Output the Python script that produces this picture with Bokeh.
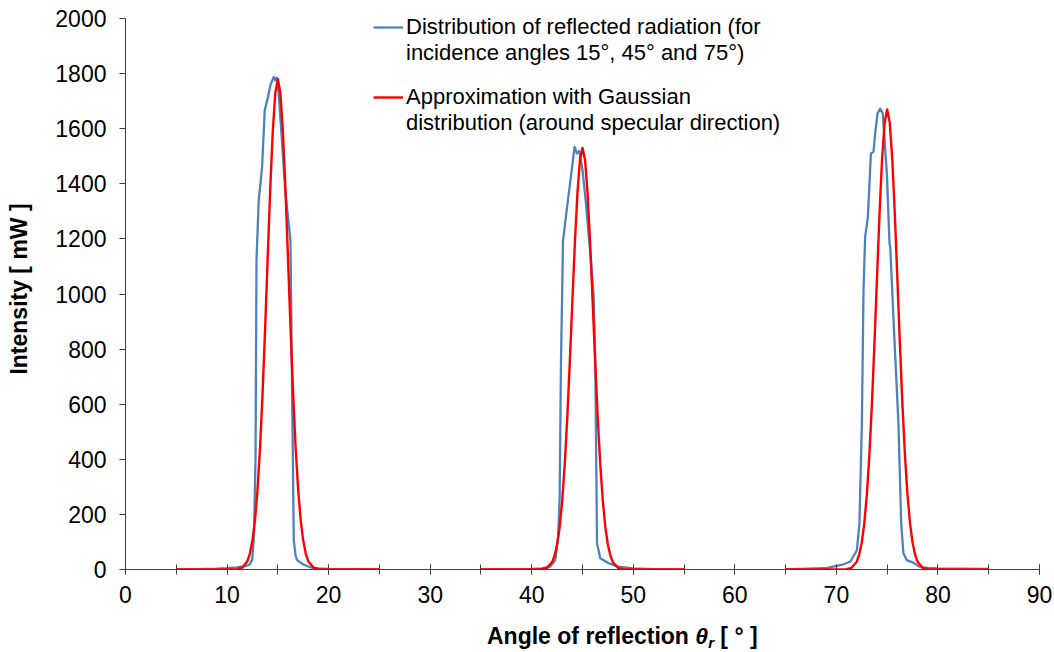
from bokeh.plotting import figure
from bokeh.models import Range1d, SingleIntervalTicker, Legend, LegendItem, Div
from bokeh.layouts import column
from bokeh.embed import file_html
from bokeh.resources import INLINE

NAN = float("nan")

# Measured (blue) reflected radiation distributions, three incidence angles
blue_x_15 = [5.0, 7.0, 9.0, 10.0, 11.0, 11.8, 12.2, 12.47, 12.65, 12.8, 12.9, 13.12, 13.45, 13.71, 14.0, 14.27,
             14.6, 14.76, 14.9, 15.1, 15.4, 15.75, 16.0, 16.24, 16.41, 16.57, 16.75, 16.9, 17.5, 18.2, 19.0,
             20.0, 22.0, 25.0]
blue_y_15 = [0, 1, 3, 5, 8, 12, 18, 34, 120, 397, 1123, 1341, 1461, 1667, 1710, 1758,
             1788, 1775, 1785, 1720, 1560, 1366, 1280, 1195, 640, 106, 50, 34, 18, 8, 4,
             2, 1, 0]
blue_x_45 = [35.0, 38.0, 40.0, 41.0, 41.8, 42.32, 42.6, 42.75, 42.88, 43.08, 43.47, 43.8, 44.22, 44.46, 44.69,
             45.0, 45.28, 45.77, 46.1, 46.26, 46.43, 46.75, 47.57, 48.5, 50.0, 52.0, 55.0]
blue_y_45 = [0, 1, 2, 4, 10, 34, 120, 262, 746, 1192, 1313, 1409, 1534, 1510, 1519,
             1450, 1352, 1148, 990, 749, 95, 41, 23, 10, 4, 1, 0]
blue_x_75 = [65.0, 66.4, 68.0, 69.1, 70.37, 70.7, 71.36, 72.02, 72.27, 72.51, 72.67, 72.83, 73.1, 73.4, 73.65,
             73.82, 74.05, 74.31, 74.57, 74.97, 75.23, 75.3, 75.72, 76.11, 76.38, 76.6, 76.94, 77.6, 78.25,
             79.0, 80.0, 82.0, 85.0]
blue_y_75 = [0, 2, 4, 6, 16, 19, 28, 70, 168, 532, 1014, 1207, 1280, 1510, 1516,
             1583, 1655, 1673, 1655, 1437, 1183, 1171, 832, 531, 168, 59, 34, 24, 9,
             6, 4, 3, 2]

# Gaussian approximations (red)
red_x_15 = [5.0, 11.0, 11.5, 12.0, 12.25, 12.5, 12.75, 13.0, 13.25, 13.5, 13.75, 14.0, 14.25, 14.5, 14.75, 15.0,
            15.25, 15.5, 15.75, 16.0, 16.25, 16.5, 16.75, 17.0, 17.25, 17.5, 17.75, 18.0, 18.5, 19.0, 25.0]
red_y_15 = [0, 1, 7, 30, 58, 105, 179, 290, 443, 641, 876, 1130, 1380, 1590, 1730, 1780,
            1730, 1590, 1380, 1130, 876, 641, 443, 290, 179, 105, 58, 30, 7, 1, 0]
red_x_45 = [35.0, 41.0, 41.5, 42.0, 42.25, 42.5, 42.75, 43.0, 43.25, 43.5, 43.75, 44.0, 44.25, 44.5, 44.75, 45.0,
            45.25, 45.5, 45.75, 46.0, 46.25, 46.5, 46.75, 47.0, 47.25, 47.5, 47.75, 48.0, 48.5, 49.0, 55.0]
red_y_45 = [0, 1, 6, 26, 50, 90, 154, 249, 381, 551, 753, 972, 1186, 1366, 1487, 1530,
            1487, 1366, 1186, 972, 753, 551, 381, 249, 154, 90, 50, 26, 6, 1, 0]
red_x_75 = [65.0, 71.0, 71.5, 72.0, 72.25, 72.5, 72.75, 73.0, 73.25, 73.5, 73.75, 74.0, 74.25, 74.5, 74.75, 75.0,
            75.25, 75.5, 75.75, 76.0, 76.25, 76.5, 76.75, 77.0, 77.25, 77.5, 77.75, 78.0, 78.5, 79.0, 85.0]
red_y_75 = [0, 1, 6, 28, 54, 98, 168, 272, 416, 601, 822, 1060, 1294, 1491, 1623, 1670,
            1623, 1491, 1294, 1060, 822, 601, 416, 272, 168, 98, 54, 28, 6, 1, 0]

x_ticks = [0, 10, 20, 30, 40, 50, 60, 70, 80, 90]
y_ticks = [0, 200, 400, 600, 800, 1000, 1200, 1400, 1600, 1800, 2000]

label_blue = ["Distribution of reflected radiation (for", "incidence angles 15°, 45° and 75°)"]
label_red = ["Approximation with Gaussian", "distribution (around specular direction)"]

FONT = "Liberation Sans"
FS = "22px"
FS_AX = "23px"
BLUE = "#4F81BD"
RED = "#FF0000"
AXIS = "#404040"

# frame: bottom at 569 px, value 2000 at 18 px; 10 px of headroom above the axis top
PX_PER_UNIT = (569 - 18) / (y_ticks[-1] - y_ticks[0])
HEADROOM = 10 / PX_PER_UNIT

p = figure(width=1054, height=612, output_backend="svg", toolbar_location=None,
           x_range=Range1d(x_ticks[0], x_ticks[-1]),
           y_range=Range1d(y_ticks[0], y_ticks[-1] + HEADROOM))
p.min_border_left = 125
p.min_border_right = 15
p.min_border_top = 8
p.min_border_bottom = 43
p.outline_line_color = None
p.xgrid.visible = False
p.ygrid.visible = False
p.background_fill_color = "white"
p.border_fill_color = "white"
p.margin = (0, 0, 0, 0)

bx = blue_x_15 + [NAN] + blue_x_45 + [NAN] + blue_x_75
by = blue_y_15 + [NAN] + blue_y_45 + [NAN] + blue_y_75
rx = red_x_15 + [NAN] + red_x_45 + [NAN] + red_x_75
ry = red_y_15 + [NAN] + red_y_45 + [NAN] + red_y_75

rb = p.line(bx, by, line_color=BLUE, line_width=2.3, line_join="round")
rr = p.line(rx, ry, line_color=RED, line_width=2.4, line_join="round")

# x axis
xa = p.xaxis[0]
xa.ticker = SingleIntervalTicker(interval=10, num_minor_ticks=2)
xa.major_tick_in = 5
xa.major_tick_out = 5
xa.minor_tick_in = 5
xa.minor_tick_out = 5
xa.axis_line_color = AXIS
xa.major_tick_line_color = AXIS
xa.minor_tick_line_color = AXIS
xa.major_label_text_font = FONT
xa.major_label_text_font_size = FS_AX
xa.major_label_text_color = "black"
xa.major_label_standoff = 11

# y axis
ya = p.yaxis[0]
ya.ticker = SingleIntervalTicker(interval=200, num_minor_ticks=0)
ya.bounds = (y_ticks[0], y_ticks[-1])
ya.major_tick_in = 0
ya.major_tick_out = 6
ya.minor_tick_in = 0
ya.minor_tick_out = 0
ya.axis_line_color = AXIS
ya.major_tick_line_color = AXIS
ya.major_label_text_font = FONT
ya.major_label_text_font_size = FS_AX
ya.major_label_text_color = "black"
ya.major_label_standoff = 13
ya.axis_label = "Intensity [ mW ]"
ya.axis_label_text_font = FONT
ya.axis_label_text_font_size = FS_AX
ya.axis_label_text_font_style = "bold"
ya.axis_label_text_color = "black"
ya.axis_label_standoff = 20

def make_legend(labels, renderer, loc):
    items = [LegendItem(label=labels[0], renderers=[renderer]),
             LegendItem(label=labels[1], renderers=[])]
    lg = Legend(items=items, location=loc)
    lg.border_line_color = None
    lg.background_fill_alpha = 0
    lg.padding = 0
    lg.margin = 0
    lg.spacing = 0
    lg.glyph_width = 30
    lg.glyph_height = 20
    lg.label_height = 26
    lg.label_standoff = 3
    lg.label_text_font = FONT
    lg.label_text_font_size = FS
    lg.label_text_line_height = 1.0
    lg.label_text_color = "black"
    return lg

p.add_layout(make_legend(label_blue, rb, (248, 503)), "center")
p.add_layout(make_legend(label_red, rr, (248, 433)), "center")

# x axis title: bold text with bold-italic theta and subscript r
xtitle = Div(
    text=('Angle of reflection <i>&theta;<sub style="font-size:15px;vertical-align:-4px;line-height:0">r</sub></i>'
          ' [ &deg; ]'),
    width=1054, height=40, margin=(0, 0, 0, 0),
    styles={"font-family": FONT, "font-size": FS_AX, "font-weight": "bold", "color": "black",
            "padding-left": "487px", "padding-top": "11px", "line-height": "26px",
            "white-space": "nowrap", "box-sizing": "border-box", "background": "white"})

layout = column(p, xtitle, spacing=0, margin=(0, 0, 0, 0))
open("out.html", "w").write(file_html(layout, INLINE))
